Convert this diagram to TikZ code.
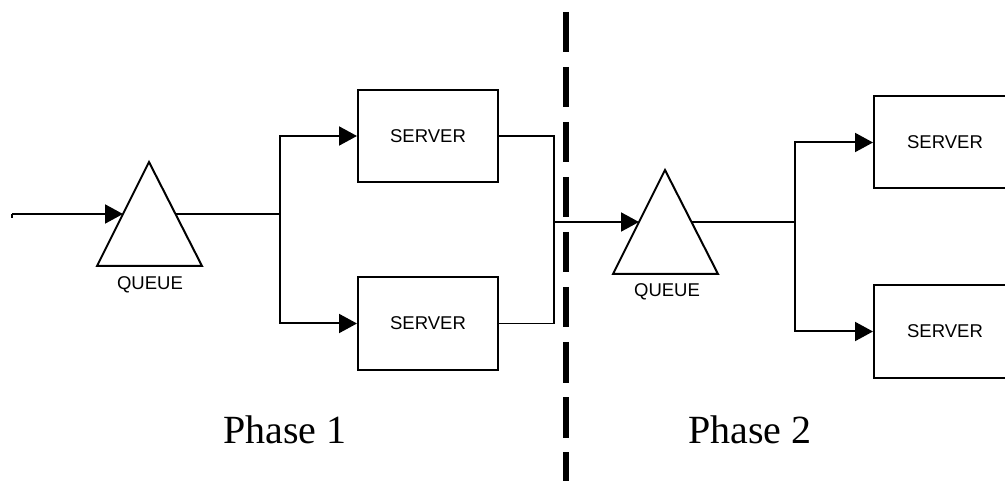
\documentclass[tikz,border=0pt]{standalone}
\usepackage{fontspec}
\setmainfont{Liberation Serif}
\newfontfamily\labelfont{Liberation Sans}
\usetikzlibrary{arrows.meta}

\begin{document}
\begin{tikzpicture}[x=1pt,y=-1pt,
  line join=miter,
  wire/.style={line width=2pt},
  thinwire/.style={line width=1.5pt},
  feed/.style={wire,-{Triangle[length=18pt,width=19pt]}},
  queuebody/.style={line width=2pt},
  serverbox/.style={draw,line width=2pt,minimum width=140pt,minimum height=92pt,
    inner sep=0pt,font=\labelfont\fontsize{18.5}{22}\selectfont},
  smalllabel/.style={inner sep=0pt,font=\labelfont\fontsize{18.5}{22}\selectfont},
  phaselabel/.style={inner sep=0pt,anchor=base,font=\fontsize{40}{46}\selectfont},
  divider/.style={line width=6pt,dash pattern=on 40.5pt off 14.5pt}]

\clip (0,0) rectangle (1005,481);
\fill[white] (0,0) rectangle (1005,481);

% ---------- Phase 1 ----------
\coordinate (src) at (12,214);
\draw[wire] (12,218) -- (src);

% queue 1 (triangle)
\draw[queuebody] (149,162) -- (202,266) -- (97,266) -- cycle;
\coordinate (q1in)  at (123,214);
\coordinate (q1out) at (176,214);
\node[smalllabel] (q1lab) at (150,285) {QUEUE};

\node[serverbox] (s1) at (428,136) {SERVER};
\node[serverbox] (s2) at (428,323.5) {SERVER};

\draw[feed] (src) -- (q1in);
\coordinate (fork1) at (280,214);
\draw[wire] (q1out) -- (fork1);
\draw[feed] (fork1) |- (s1.west);
\draw[feed] (fork1) |- (s2.west);

% merge of the two servers
\coordinate (merge) at (554,222);
\draw[thinwire] (s1.east) -| (merge);
\draw[thinwire] (s2.east) -| (merge);

% ---------- Phase 2 ----------
\draw[queuebody] (665,170) -- (718,274) -- (613,274) -- cycle;
\coordinate (q2in)  at (639,222);
\coordinate (q2out) at (692,222);
\node[smalllabel] (q2lab) at (667,292) {QUEUE};

\draw[feed] (merge) -- (q2in);

\node[serverbox,minimum width=142pt] (s3) at (945,142.5) {SERVER};
\node[serverbox,minimum width=142pt] (s4) at (945,331.5) {SERVER};

\coordinate (fork2) at (795,222);
\draw[wire] (q2out) -- (fork2);
\draw[feed] (fork2) |- (s3.west);
\draw[feed] (fork2) |- (s4.west);

% ---------- phase divider and labels ----------
\coordinate (divtop) at (566,12);
\coordinate (divbot) at (566,495);
\draw[divider] (divtop) -- (divbot);

\node[phaselabel] (ph1) at (285,443) {Phase 1};
\node[phaselabel] (ph2) at (750,443) {Phase 2};
\end{tikzpicture}
\end{document}
